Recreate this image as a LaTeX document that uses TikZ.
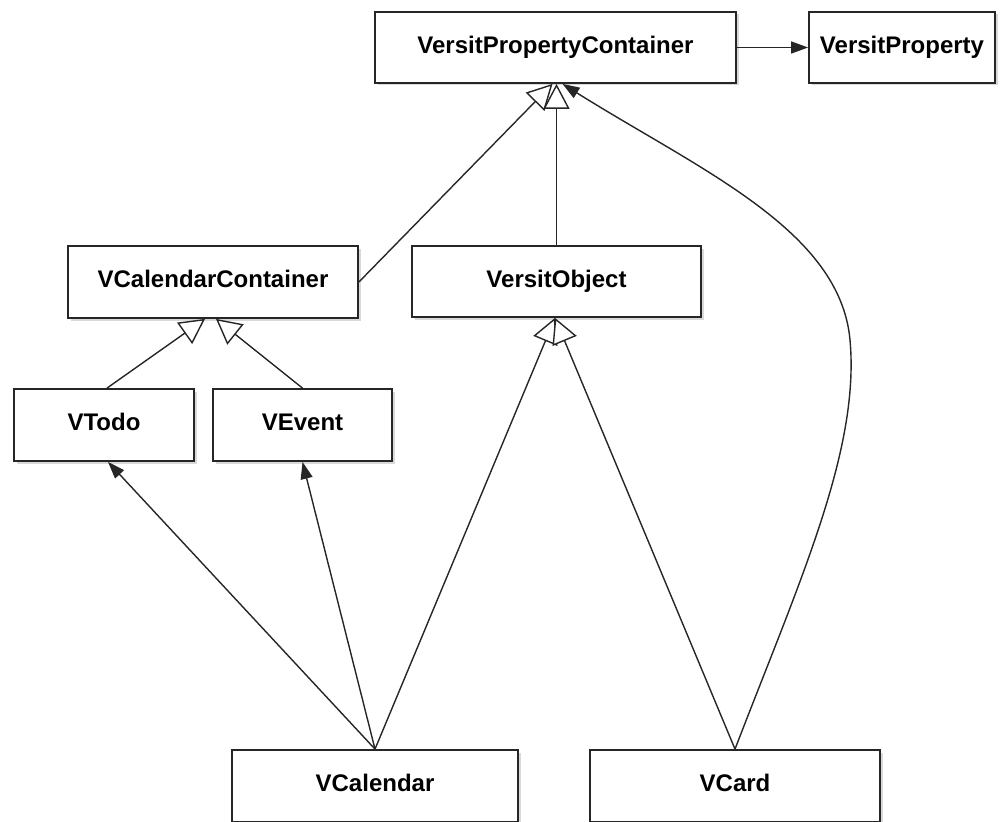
\documentclass[tikz,border=0pt]{standalone}
\usepackage{fontspec}
\setmainfont{Liberation Sans}
\usetikzlibrary{arrows.meta,shadows}

\tikzset{
  cls/.style={draw=black!85, line width=1.8pt, fill=white,
    font=\bfseries\fontsize{24}{28}\selectfont,
    text height=17.5pt, text depth=6pt, inner sep=0pt,
    drop shadow={shadow xshift=2.5pt, shadow yshift=-2.5pt, opacity=0.3}},
  link/.style={draw=black!85, line width=1.4pt},
  inherit/.style={link, -{Triangle[open, length=25pt, width=26pt, fill=white, line width=1.4pt]}},
  assoc/.style={link, -{Triangle[length=17pt, width=12pt]}},
}

\begin{document}
\begin{tikzpicture}[x=1pt, y=-1pt]
  \useasboundingbox (0,0) rectangle (1000,821);
  \clip (0,0) rectangle (1000,821);

  % classes
  \node[cls, minimum width=361pt, minimum height=71pt] (vpc)    at (555.5, 47.5) {VersitPropertyContainer};
  \node[cls, minimum width=186pt, minimum height=71pt] (vp)     at (902, 47.5)   {VersitProperty};
  \node[cls, minimum width=290pt, minimum height=72pt] (vcc)    at (213, 282)    {VCalendarContainer};
  \node[cls, minimum width=289pt, minimum height=71pt] (vo)     at (556.5, 281.5) {VersitObject};
  \node[cls, minimum width=180pt, minimum height=72pt] (vtodo)  at (104, 425)    {VTodo};
  \node[cls, minimum width=179pt, minimum height=72pt] (vevent) at (302.5, 425)  {VEvent};
  \node[cls, minimum width=286pt, minimum height=72pt] (vcal)   at (375, 786)    {VCalendar};
  \node[cls, minimum width=290pt, minimum height=72pt] (vcard)  at (735, 786)    {VCard};

  % association
  \draw[assoc] (vpc.east) -- (vp.west);

  % generalisations
  \draw[inherit] (vcc.east) -- ([xshift=-3pt]vpc.south);
  \draw[inherit] (vo.north) -- (vo.north |- vpc.south);
  \draw[inherit] ([xshift=3pt]vtodo.north) -- ([xshift=-8pt]vcc.south);
  \draw[inherit] (vevent.north) -- ([xshift=3pt]vcc.south);
  \draw[inherit] (vcal.north) -- ([xshift=-1.5pt]vo.south);
  \draw[inherit] (vcard.north) -- ([xshift=-1.5pt]vo.south);

  % dependencies
  \draw[assoc] (vcal.north) -- ([xshift=4pt]vtodo.south);
  \draw[assoc] (vcal.north) -- (vevent.south);
  \draw[assoc] (vcard.north) .. controls (800,580) and (860,450) .. (850,340)
                             .. controls (840,230) and (700,170) .. ([xshift=7pt]vpc.south);
\end{tikzpicture}
\end{document}
